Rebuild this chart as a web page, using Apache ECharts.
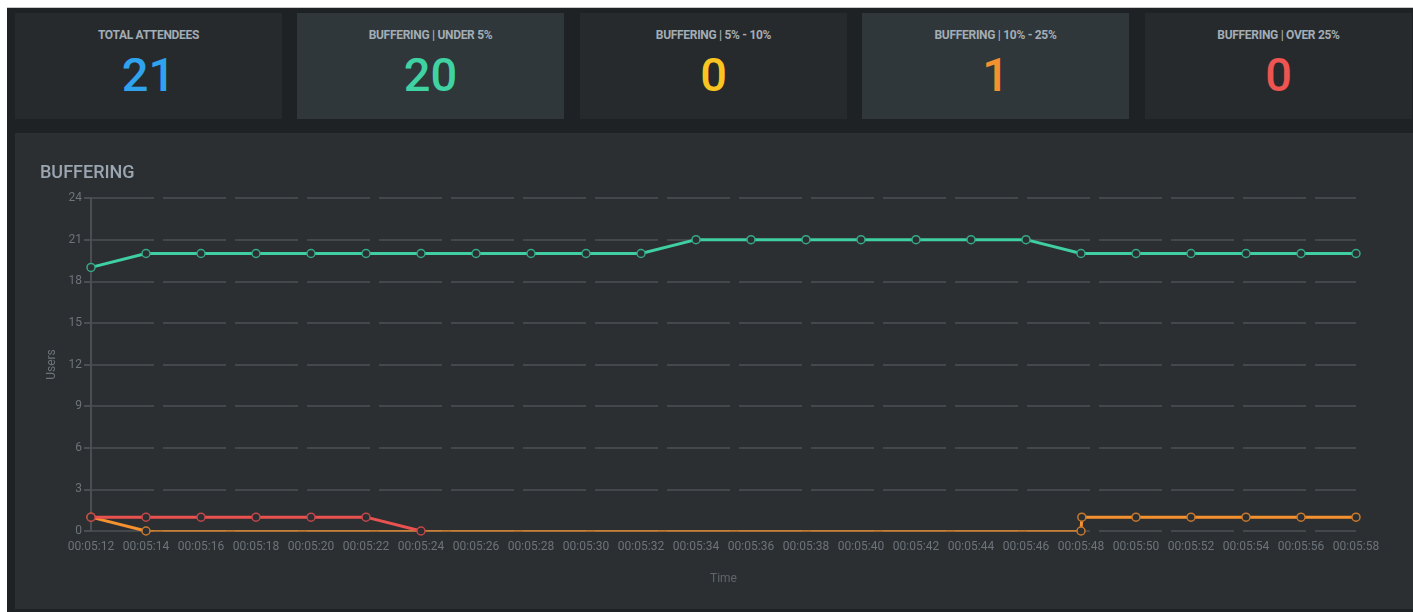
<!DOCTYPE html>
<html>
<head>
<meta charset="utf-8">
<script src="https://cdn.jsdelivr.net/npm/echarts@6/dist/echarts.min.js"></script>
<style>
  html, body { margin: 0; padding: 0; background: #ffffff; }
  #page { position: absolute; left: 7px; top: 7px; width: 1406px; height: 605px; background: #1f2225; border-top: 1px solid #c8c8c8; box-sizing: border-box; }
  .card { position: absolute; top: 5px; width: 267px; height: 106px; text-align: center; font-family: Roboto, "Noto Sans", sans-serif; }
  .card .lbl { position: absolute; left: 0; right: 0; top: 15px; font-size: 12px; font-weight: 700; color: #a3adb5; letter-spacing: -0.3px; }
  .card .val { position: absolute; left: 0; right: 0; top: 34px; font-size: 47px; font-weight: 500; line-height: 56px; }
  #panel { position: absolute; left: 8px; top: 125px; width: 1398px; height: 476px; background: #2b2f32; }
  #chart { position: absolute; left: 0; top: 0; width: 1398px; height: 476px; }
</style>
</head>
<body>
<div id="page">
  <div id="cards"></div>
  <div id="panel"><div id="chart"></div></div>
</div>
<script>
// summary cards
var cardLabels = ['TOTAL ATTENDEES', 'BUFFERING | UNDER 5%', 'BUFFERING | 5% - 10%', 'BUFFERING | 10% - 25%', 'BUFFERING | OVER 25%'];
var cardValues = [21, 20, 0, 1, 0];
var cardColors = ['#2fa3ee', '#3fd3a3', '#f9c520', '#f5922f', '#ee5450'];

// time in seconds (00:05:12 ... 00:05:58)
var times = [312, 314, 316, 318, 320, 322, 324, 326, 328, 330, 332, 334, 336, 338, 340, 342, 344, 346, 348, 350, 352, 354, 356, 358];
var under5 = [19, 20, 20, 20, 20, 20, 20, 20, 20, 20, 20, 21, 21, 21, 21, 21, 21, 21, 20, 20, 20, 20, 20, 20];
var over25Times = [312, 314, 316, 318, 320, 322, 324];
var over25 = [1, 1, 1, 1, 1, 1, 0];
var mid10to25Times = [312, 314, 348, 348.03, 350, 352, 354, 356, 358];
var mid10to25 = [1, 0, 0, 1, 1, 1, 1, 1, 1];

var cardsEl = document.getElementById('cards');
var lefts = [8, 290, 573, 855, 1138];
var bgs = ['#272a2d', '#30373a', '#272a2d', '#30373a', '#272a2d'];
for (var i = 0; i < cardLabels.length; i++) {
  var c = document.createElement('div');
  c.className = 'card';
  c.style.left = lefts[i] + 'px';
  c.style.background = bgs[i];
  c.innerHTML = '<div class="lbl">' + cardLabels[i] + '</div><div class="val" style="color:' + cardColors[i] + '">' + cardValues[i] + '</div>';
  cardsEl.appendChild(c);
}

function pad(n) { return (n < 10 ? '0' : '') + n; }
function fmt(v) { return '00:' + pad(Math.floor(v / 60)) + ':' + pad(Math.round(v % 60)); }

function pairs(xs, ys) {
  return xs.map(function (x, i) { return [x, ys[i]]; });
}

var orangeData = pairs(mid10to25Times, mid10to25);
// break the thick line where the value sits on zero, drawn thin below
var orangeMain = orangeData.slice(0, 2).concat([[331, null]]).concat(orangeData.slice(2));
var orangeFlat = [orangeData[1], orangeData[2]];

function lineSeries(name, data, col, border) {
  return {
    name: name,
    type: 'line',
    data: data,
    connectNulls: false,
    symbol: 'circle',
    symbolSize: 8,
    lineStyle: { width: 3, color: col },
    itemStyle: { color: '#2b2f32', borderColor: border, borderWidth: 1.5 }
  };
}

var chart = echarts.init(document.getElementById('chart'), null, {renderer: 'canvas'});
var option = {
  animation: false,
  title: {
    text: 'BUFFERING',
    left: 20,
    top: 26,
    textStyle: { color: '#9ba6b0', fontSize: 18, fontWeight: 500, fontFamily: 'Roboto' }
  },
  grid: { left: 76, right: 57, top: 65, bottom: 78 },
  xAxis: {
    type: 'value',
    min: 312,
    max: 358,
    interval: 2,
    name: 'Time',
    nameLocation: 'middle',
    nameGap: 42,
    nameTextStyle: { color: '#5f666c', fontSize: 12, fontFamily: 'Roboto' },
    axisLine: { show: false },
    axisTick: { show: false },
    splitLine: { show: false },
    axisLabel: { color: '#6c747b', fontSize: 12, fontFamily: 'Roboto', margin: 10, formatter: fmt }
  },
  yAxis: {
    type: 'value',
    min: 0,
    max: 24,
    interval: 3,
    name: 'Users',
    nameLocation: 'middle',
    nameGap: 32,
    nameTextStyle: { color: '#6c747b', fontSize: 12, fontFamily: 'Roboto' },
    axisLine: { show: true, lineStyle: { color: '#4a4f54', width: 2 } },
    axisTick: { show: true, length: 7, lineStyle: { color: '#4a4f54', width: 2 } },
    axisLabel: { color: '#6c747b', fontSize: 12, fontFamily: 'Roboto', margin: 9 },
    splitLine: { show: true, lineStyle: { color: '#43484d', width: 2, type: [63, 9] } }
  },
  series: [
    lineSeries('BUFFERING | UNDER 5%', pairs(times, under5), '#3fcfa0', '#36a985'),
    {
      name: 'flat',
      type: 'line',
      data: orangeFlat,
      showSymbol: false,
      silent: true,
      lineStyle: { width: 1.5, color: '#f5922f' }
    },
    lineSeries('BUFFERING | 10% - 25%', orangeMain, '#f5922f', '#c97a2c'),
    lineSeries('BUFFERING | OVER 25%', pairs(over25Times, over25), '#e9524f', '#c4474a')
  ]
};
chart.setOption(option);
</script>
</body>
</html>
